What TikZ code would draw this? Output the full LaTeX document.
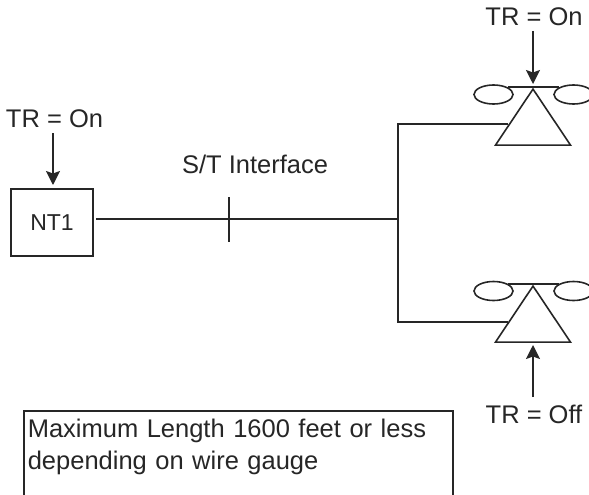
\documentclass[tikz,border=0pt]{standalone}
\usepackage{fontspec}
\setmainfont{Liberation Sans}
\usetikzlibrary{shapes.geometric,positioning,arrows.meta}

\tikzset{
  label text/.style={font=\fontsize{25.5}{32}\selectfont, inner sep=0pt},
  coil/.style={draw, ellipse, minimum width=39pt, minimum height=19pt, inner sep=0pt},
  phone/.style={draw, isosceles triangle, isosceles triangle stretches, shape border rotate=90,
    minimum width=75pt, minimum height=56pt, inner sep=0pt, anchor=apex}
}

\begin{document}
\begin{tikzpicture}[x=1pt, y=-1pt, >={Stealth[length=14pt,width=14pt,inset=2.5pt]}, line width=1.6pt, color=black!85]
  \useasboundingbox (0,0) rectangle (589,495);
  \clip (0,0) rectangle (589,495);

  \node[draw, minimum width=82pt, minimum height=67pt, label text, font=\fontsize{23}{28}\selectfont] (NT1) at (52,222.5) {NT1};
  \node[label text] (TRnt) at (54.5,119) {TR = On};
  \node[label text] (STlabel) at (255,164) {S/T Interface};

  \coordinate (Wire) at (96,219);
  \coordinate (Branch) at (398,219);
  \coordinate (TickTop) at (229,197);
  \coordinate (TickBot) at (229,242);

  % upper phone
  \node[phone] (PhoneA) at (533,87) {};
  \node[coil] (CoilAL) at (493.5,94.5) {};
  \node[coil] (CoilAR) at (573.5,94.5) {};
  \node[label text] (TRa) at (534,17) {TR = On};

  % lower phone
  \node[phone] (PhoneB) at (533,284) {};
  \node[coil] (CoilBL) at (493.5,291) {};
  \node[coil] (CoilBR) at (573.5,291) {};
  \node[label text] (TRb) at (534,414) {TR = Off};

  \coordinate (JoinA) at (508,124);
  \coordinate (JoinB) at (508,322);

  \draw (Wire) -- (Branch);
  \draw (TickTop) -- (TickBot);
  \draw (JoinA) -| (Branch) |- (JoinB);

  \draw (CoilAL.north east |- PhoneA.apex) -- (PhoneA.apex) -- (CoilAR.north west |- PhoneA.apex);
  \draw (CoilBL.north east |- PhoneB.apex) -- (PhoneB.apex) -- (CoilBR.north west |- PhoneB.apex);

  \coordinate (ArrowNT) at (53,133);
  \coordinate (ArrowNTend) at (53,185);
  \coordinate (ArrowA) at (533,31);
  \coordinate (ArrowAend) at (533,84);
  \coordinate (ArrowB) at (533,397);
  \coordinate (ArrowBend) at (533,345);
  \draw[->] (ArrowNT) -- (ArrowNTend);
  \draw[->] (ArrowA) -- (ArrowAend);
  \draw[->] (ArrowB) -- (ArrowBend);

  % box runs off the bottom
  \node[draw, anchor=north west, align=left, text width=421pt, label text, inner xsep=4pt, inner ysep=8pt, text depth=90pt] (Note) at (23,410)
    {Maximum Length 1600 feet or less\\depending on wire gauge};
\end{tikzpicture}
\end{document}
